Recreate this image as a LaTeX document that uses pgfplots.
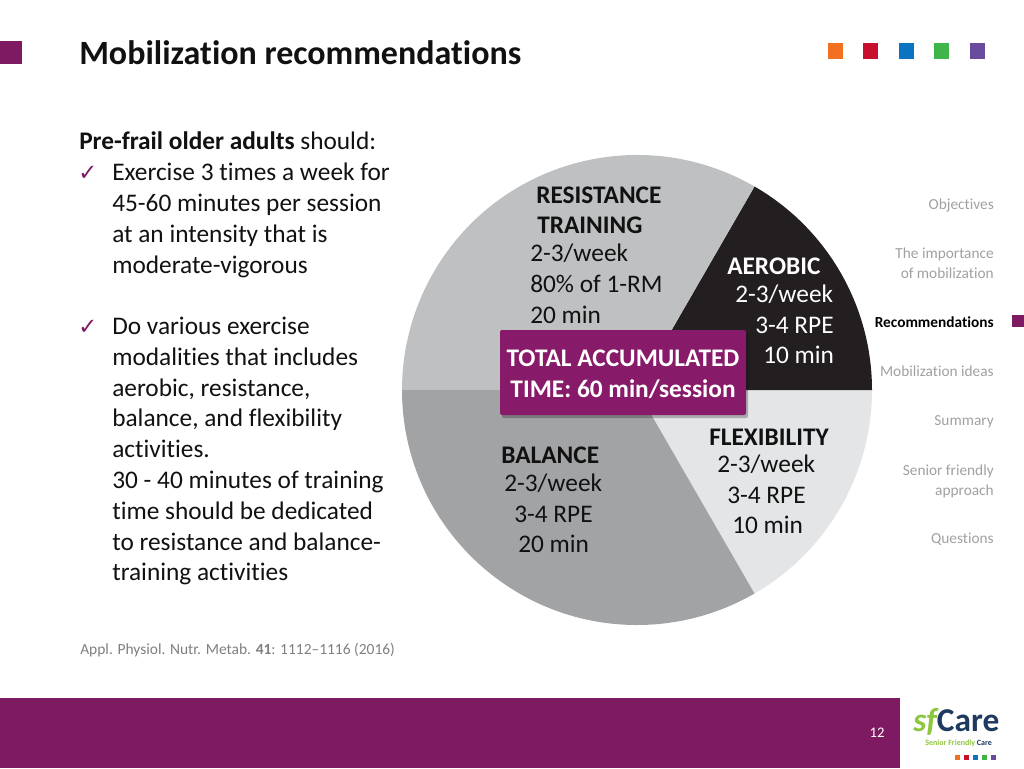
\documentclass[border=0pt]{standalone}
\usepackage{pgfplots}
\pgfplotsset{compat=1.18}
\usepackage{pgfplotstable}
\usepackage{fontspec}
\setmainfont{Carlito}[Ligatures={NoCommon}]
\newfontfamily\symfont{DejaVu Sans}

\definecolor{plum}{HTML}{7E1A61}
\definecolor{boxplum}{HTML}{871B69}
\definecolor{resc}{HTML}{BEC0C2}
\definecolor{aerc}{HTML}{231F20}
\definecolor{flexc}{HTML}{E3E5E6}
\definecolor{balc}{HTML}{A1A3A5}
\definecolor{navgray}{HTML}{A0A0A0}
\definecolor{citegray}{HTML}{7F7F7F}
\definecolor{sqorange}{HTML}{F36F21}
\definecolor{sqred}{HTML}{C8102E}
\definecolor{sqblue}{HTML}{0A74C0}
\definecolor{sqgreen}{HTML}{3FB449}
\definecolor{sqpurple}{HTML}{6A4C9C}
\definecolor{logogreen}{HTML}{8DC63F}
\definecolor{logonavy}{HTML}{1F3A60}
\definecolor{txt}{HTML}{111111}

\newcommand{\bodyf}{\fontsize{19pt}{23pt}\selectfont}
\newcommand{\pief}{\fontsize{19pt}{22pt}\selectfont}
\newcommand{\navf}{\fontsize{11.5pt}{14pt}\selectfont}

\pgfplotstableread{
slice value
Flexibility 10
Aerobic 10
Resistance 20
Balance 20
}\piedata

\begin{document}
\begin{tikzpicture}[
  tx/.style={anchor=base west, inner sep=0pt},
  nv/.style={anchor=base east, inner sep=0pt, font=\navf, text=navgray},
]
\pgfplotstablegetelem{0}{value}\of\piedata \let\vF\pgfplotsretval
\pgfplotstablegetelem{1}{value}\of\piedata \let\vA\pgfplotsretval
\pgfplotstablegetelem{2}{value}\of\piedata \let\vR\pgfplotsretval
\pgfplotstablegetelem{3}{value}\of\piedata \let\vB\pgfplotsretval
\pgfmathsetmacro\tot{\vF+\vA+\vR+\vB}
\pgfmathsetmacro\aZ{-360*\vF/\tot}
\pgfmathsetmacro\aO{0}
\pgfmathsetmacro\aT{\aO+360*\vA/\tot}
\pgfmathsetmacro\aH{\aT+360*\vR/\tot}
\pgfmathsetmacro\aF{\aH+360*\vB/\tot}
\def\cx{637}\def\cy{390}\def\rr{235}
\begin{axis}[
  scale only axis, width=768pt, height=576pt,
  xmin=0, xmax=1024, ymin=0, ymax=768, y dir=reverse,
  hide axis, clip=false,
]
\path (0,0) rectangle (1024,768);
% header
\fill[plum] (0,41) rectangle (22,64);
\node[tx, font=\fontsize{25.5pt}{28pt}\selectfont\bfseries, text=txt] at (79,64) {Mobilization recommendations};
\fill[sqorange] (828,43) rectangle (843,59);
\fill[sqred]    (863,43) rectangle (878,59);
\fill[sqblue]   (899,43) rectangle (914,59);
\fill[sqgreen]  (934,43) rectangle (949,59);
\fill[sqpurple] (970,43) rectangle (985,59);

% left text
\node[tx, font=\bodyf, text=txt] at (79,149) {\textbf{Pre-frail older adults} should:};
\node[tx, font=\symfont\fontsize{17pt}{18pt}\selectfont, text=plum] at (78,180) {✓};
\node[tx, font=\bodyf, text=txt] at (112,180) {Exercise 3 times a week for};
\node[tx, font=\bodyf, text=txt] at (112,211) {45-60 minutes per session};
\node[tx, font=\bodyf, text=txt] at (112,242) {at an intensity that is};
\node[tx, font=\bodyf, text=txt] at (112,273) {moderate-vigorous};
\node[tx, font=\symfont\fontsize{17pt}{18pt}\selectfont, text=plum] at (78,334) {✓};
\node[tx, font=\bodyf, text=txt] at (112,334) {Do various exercise};
\node[tx, font=\bodyf, text=txt] at (112,365) {modalities that includes};
\node[tx, font=\bodyf, text=txt] at (112,396) {aerobic, resistance,};
\node[tx, font=\bodyf, text=txt] at (112,426) {balance, and flexibility};
\node[tx, font=\bodyf, text=txt] at (112,457) {activities.};
\node[tx, font=\bodyf, text=txt] at (112,488) {30 - 40 minutes of training};
\node[tx, font=\bodyf, text=txt] at (112,519) {time should be dedicated};
\node[tx, font=\bodyf, text=txt] at (112,550) {to resistance and balance-};
\node[tx, font=\bodyf, text=txt] at (112,580) {training activities};

% pie
\fill[flexc] (\cx,\cy) -- ({\cx+\rr*cos(\aZ)},{\cy-\rr*sin(\aZ)}) arc[start angle=\aZ, end angle=\aO, radius=176.25pt] -- cycle;
\fill[aerc] (\cx,\cy) -- ({\cx+\rr*cos(\aO)},{\cy-\rr*sin(\aO)}) arc[start angle=\aO, end angle=\aT, radius=176.25pt] -- cycle;
\fill[resc] (\cx,\cy) -- ({\cx+\rr*cos(\aT)},{\cy-\rr*sin(\aT)}) arc[start angle=\aT, end angle=\aH, radius=176.25pt] -- cycle;
\fill[balc] (\cx,\cy) -- ({\cx+\rr*cos(\aH)},{\cy-\rr*sin(\aH)}) arc[start angle=\aH, end angle=\aF, radius=176.25pt] -- cycle;

% pie labels
\node[tx, font=\pief\bfseries, text=txt] at (536,203) {RESISTANCE};
\node[tx, font=\pief\bfseries, text=txt] at (537,233) {TRAINING};
\node[tx, font=\pief, text=txt] at (530,261) {2-3/week};
\node[tx, font=\pief, text=txt] at (530,292) {80\% of 1-RM};
\node[tx, font=\pief, text=txt] at (530,323) {20 min};

\node[tx, font=\pief\bfseries, text=white] at (727,274) {AEROBIC};
\node[tx, font=\pief, text=white] at (735,302) {2-3/week};
\node[tx, font=\pief, text=white] at (755,333) {3-4 RPE};
\node[tx, font=\pief, text=white] at (763,363) {10 min};

\node[tx, font=\pief\bfseries, text=txt] at (709,445) {FLEXIBILITY};
\node[tx, font=\pief, text=txt] at (717,472) {2-3/week};
\node[tx, font=\pief, text=txt] at (727,503) {3-4 RPE};
\node[tx, font=\pief, text=txt] at (732,533) {10 min};

\node[tx, font=\pief\bfseries, text=txt] at (501,463) {BALANCE};
\node[tx, font=\pief, text=txt] at (504,491) {2-3/week};
\node[tx, font=\pief, text=txt] at (514,522) {3-4 RPE};
\node[tx, font=\pief, text=txt] at (518,552) {20 min};

% central box
\fill[black, opacity=0.25, rounded corners=1.5pt] (502,333) rectangle (748,418);
\fill[boxplum, rounded corners=1.5pt] (500,330) rectangle (746,415);
\node[anchor=base, inner sep=0pt, font=\pief\bfseries, text=white] at (623,366) {TOTAL ACCUMULATED};
\node[anchor=base, inner sep=0pt, font=\pief\bfseries, text=white] at (623,397) {TIME: 60 min/session};

% navigation
\node[nv] at (994,209) {Objectives};
\node[nv] at (994,258) {The importance};
\node[nv] at (994,278) {of mobilization};
\node[nv, text=black, font=\navf\bfseries] at (994,327) {Recommendations};
\fill[plum] (1012,315) rectangle (1024,327);
\node[nv] at (994,376) {Mobilization ideas};
\node[nv] at (994,425) {Summary};
\node[nv] at (994,475) {Senior friendly};
\node[nv] at (994,495) {approach};
\node[nv] at (994,543) {Questions};

% citation
\node[tx, font=\fontsize{11.6pt}{13pt}\selectfont, text=citegray] at (80,654) {Appl. Physiol. Nutr. Metab. \textbf{41}: 1112–1116 (2016)};

% footer
\fill[plum] (0,698) rectangle (900,768);
\node[inner sep=0pt, font=\fontsize{11pt}{13pt}\selectfont, text=white] at (877,733) {12};
\node[tx, font=\fontsize{25pt}{26pt}\selectfont\bfseries] at (913,731) {\textcolor{logogreen}{\itshape sf}\textcolor{logonavy}{Care}};
\node[tx, font=\fontsize{6pt}{7pt}\selectfont\bfseries] at (925,745) {\textcolor{logogreen}{Senior Friendly} \textcolor{logonavy}{Care}};
\fill[sqorange] (955,755) rectangle (960,760);
\fill[sqred]    (964,755) rectangle (969,760);
\fill[sqblue]   (973,755) rectangle (978,760);
\fill[sqgreen]  (982,755) rectangle (987,760);
\fill[sqpurple] (991,755) rectangle (996,760);
\end{axis}
\end{tikzpicture}
\end{document}
